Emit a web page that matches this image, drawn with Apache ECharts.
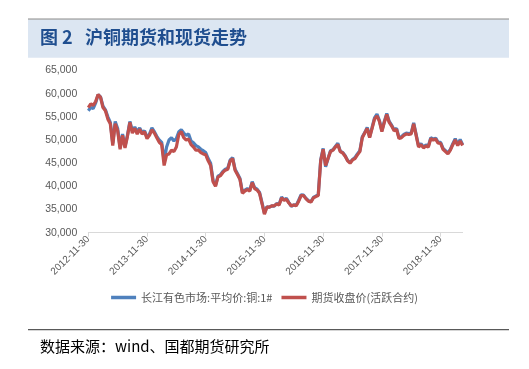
<!DOCTYPE html>
<html>
<head>
<meta charset="utf-8">
<script src="https://cdn.jsdelivr.net/npm/echarts@6/dist/echarts.min.js"></script>
<style>
html,body{margin:0;padding:0;background:#fff;}
#chart{width:529px;height:369px;}
</style>
</head>
<body>
<div id="chart"></div>
<script>
// X tick labels shown on the axis
const tickLabels = ['2012-11-30','2013-11-30','2014-11-30','2015-11-30','2016-11-30','2017-11-30','2018-11-30'];

// Semi-monthly sample dates (x categories), from 2012-11-30 to 2019-04-15
const categories = [];
for (let i = 0; i < 154; i++) {
  const mIdx = 10 + Math.floor((i + 1) / 2); // months since 2012-01
  const y = 2012 + Math.floor(mIdx / 12);
  const m = mIdx % 12 + 1;
  const d = (i % 2 === 0) ? (m === 2 ? 28 : 30) : 15;
  categories.push(y + '-' + String(m).padStart(2, '0') + '-' + String(d).padStart(2, '0'));
}

const spotName = '长江有色市场:平均价:铜:1#';
const futName = '期货收盘价(活跃合约)';

// 长江有色市场:平均价:铜:1#
const spotValues = [
  56300, 57000, 56800, 58000, 59800, 59300, 57300, 56500, 55000, 53800,
  49300, 54000, 52500, 48400, 51300, 48600, 51000, 54000, 52000, 52800,
  51800, 52600, 51600, 52000, 50500, 51300, 52600, 51800, 50800, 50000,
  49500, 45500, 48500, 50000, 50500, 49800, 50300, 51800, 52200, 51500,
  51000, 51300, 49800, 49400, 48800, 48500, 48000, 47700, 47300, 46000,
  45000, 41300, 40200, 42200, 42500, 43200, 43700, 43900, 45700, 46200,
  43700, 42700, 41700, 38700, 39200, 39500, 39200, 41000, 39700, 39400,
  38700, 36500, 34200, 35600, 35500, 35800, 35700, 36300, 36100, 37700,
  37100, 37400, 36500, 35700, 36000, 35900, 37000, 38200, 38100, 37400,
  36900, 36700, 37600, 37900, 38200, 45700, 48200, 44200, 46000, 47700,
  47900, 48600, 49300, 47600, 47300, 46600, 45600, 45200, 45800, 46200,
  47000, 47700, 50700, 51600, 52700, 50700, 52700, 54800, 55600, 54200,
  52000, 54000, 55700, 54000, 53200, 52200, 52500, 50500, 50700, 51200,
  51500, 51400, 51500, 53700, 51200, 48700, 49200, 48500, 48900, 48700,
  50500, 50200, 50400, 49500, 49500, 48200, 47700, 47200, 48000, 49200,
  50300, 49000, 50100, 49000
];

// 期货收盘价(活跃合约)
const futValues = [
  57000, 57800, 57500, 58300, 59800, 59200, 57000, 56300, 54500, 53500,
  48800, 53500, 52000, 48000, 51000, 48300, 50800, 53800, 51500, 52500,
  51300, 52300, 51300, 51800, 50300, 51000, 52200, 51500, 50500, 49500,
  49000, 44500, 46800, 47000, 47800, 47500, 48500, 51200, 51800, 50500,
  50000, 50200, 49000, 48500, 47800, 47800, 47300, 47000, 46800, 45500,
  44500, 41000, 40000, 42000, 42300, 43000, 43500, 43700, 45500, 46000,
  43500, 42500, 41500, 38500, 39000, 39300, 39000, 40800, 39500, 39200,
  38500, 36300, 34000, 35500, 35500, 35800, 35800, 36200, 36000, 37500,
  37000, 37200, 36400, 35800, 36000, 35800, 36800, 38000, 38000, 37300,
  36800, 36600, 37500, 37800, 38000, 45500, 48000, 44500, 46000, 47500,
  47800, 48500, 49000, 47500, 47200, 46500, 45500, 45000, 45700, 46000,
  46800, 47500, 50500, 51500, 52500, 50500, 52500, 54500, 55200, 54000,
  51800, 53800, 55500, 53800, 53000, 52000, 52300, 50300, 50500, 51000,
  51300, 51200, 51300, 53500, 51000, 48500, 49000, 48300, 48700, 48500,
  50300, 50000, 50200, 49300, 49300, 48000, 47500, 47000, 47800, 49000,
  50000, 48800, 49800, 48800
];

const chart = echarts.init(document.getElementById('chart'), null, {renderer: 'canvas'});
const isTick = (idx, val) => tickLabels.indexOf(val) >= 0;
chart.setOption({
  animation: false,
  backgroundColor: '#ffffff',
  grid: {left: 88.3, right: 66.4, top: 70.5, bottom: 136.3, containLabel: false},
  xAxis: {
    type: 'category',
    data: categories,
    boundaryGap: false,
    axisLine: {show: true, lineStyle: {color: '#d9d9d9', width: 1}},
    axisTick: {show: true, interval: isTick, length: 4, lineStyle: {color: '#d9d9d9'}},
    axisLabel: {interval: isTick, rotate: 45, color: '#595959', fontSize: 10, margin: 5,
      fontFamily: 'Liberation Sans, Arial, sans-serif'},
    splitLine: {show: false}
  },
  yAxis: {
    type: 'value',
    min: 30000, max: 65000, interval: 5000,
    axisLine: {show: false},
    axisTick: {show: false},
    splitLine: {show: false},
    axisLabel: {
      color: '#595959', fontSize: 10.5, margin: 11,
      fontFamily: 'Liberation Sans, Arial, sans-serif',
      formatter: v => String(v).replace(/\B(?=(\d{3})+(?!\d))/g, ',')
    }
  },
  legend: {
    top: 287, left: 'center',
    itemWidth: 25, itemHeight: 3.5, itemGap: 9,
    icon: 'rect',
    textStyle: {color: '#595959', fontSize: 11, fontFamily: 'Noto Sans CJK SC, sans-serif'},
    data: [spotName, futName]
  },
  series: [
    {name: spotName, type: 'line', data: spotValues, showSymbol: false, symbol: 'none',
      lineStyle: {color: '#4f81bd', width: 3.2}, itemStyle: {color: '#4f81bd'}},
    {name: futName, type: 'line', data: futValues, showSymbol: false, symbol: 'none',
      lineStyle: {color: '#c0504d', width: 3.2}, itemStyle: {color: '#c0504d'}}
  ],
  graphic: [
    {type: 'rect', silent: true, shape: {x: 28, y: 18.5, width: 481, height: 1.3}, style: {fill: '#8c8c8c'}},
    {type: 'rect', silent: true, shape: {x: 28, y: 19.8, width: 481, height: 38}, style: {fill: '#dce6f2'}},
    {type: 'text', silent: true, left: 40, top: 28.5,
      style: {text: '图 2', fill: '#1f4e8f', font: 'bold 18px "Noto Sans CJK SC", sans-serif'}},
    {type: 'text', silent: true, left: 85, top: 28.5,
      style: {text: '沪铜期货和现货走势', fill: '#1f4e8f', font: 'bold 18px "Noto Sans CJK SC", sans-serif'}},
    {type: 'rect', silent: true, shape: {x: 28, y: 329, width: 481, height: 1.3}, style: {fill: '#595959'}},
    {type: 'text', silent: true, left: 40, top: 339,
      style: {text: '数据来源：wind、国都期货研究所', fill: '#000000', font: '15px "Noto Sans CJK SC", sans-serif'}}
  ]
});
</script>
</body>
</html>
